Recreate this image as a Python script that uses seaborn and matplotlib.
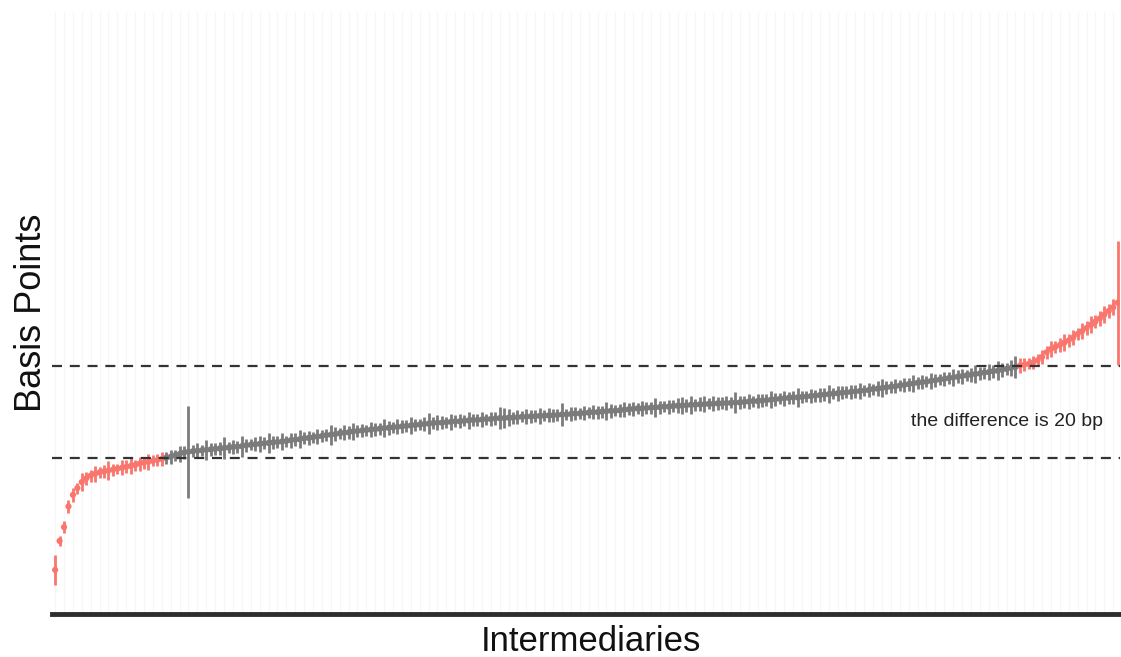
import numpy as np
import pandas as pd
import matplotlib
matplotlib.use("Agg")
import matplotlib.pyplot as plt
import seaborn as sns

# ---- data (basis points, sorted by spread) ----
spread_bp = [
    15.7, 22.0, 25.0, 29.5, 32.0, 33.5, 34.8, 35.6, 36.2, 36.6,
    36.9, 37.1, 37.3, 37.5, 37.7, 37.9, 38.1, 38.3, 38.5, 38.8,
    39.0, 39.2, 39.4, 39.6, 39.8, 40.1, 40.3, 40.6, 40.9, 41.2,
    41.4, 41.5, 41.6, 41.7, 41.8, 41.9, 42.0, 42.1, 42.2, 42.3,
    42.4, 42.5, 42.6, 42.8, 42.9, 43.0, 43.1, 43.2, 43.3, 43.4,
    43.5, 43.6, 43.7, 43.9, 44.0, 44.1, 44.3, 44.4, 44.5, 44.7,
    44.8, 45.0, 45.1, 45.2, 45.4, 45.5, 45.6, 45.8, 45.9, 46.0,
    46.1, 46.2, 46.3, 46.4, 46.5, 46.6, 46.7, 46.8, 46.9, 47.0,
    47.1, 47.2, 47.3, 47.4, 47.5, 47.6, 47.7, 47.7, 47.8, 47.9,
    48.0, 48.0, 48.1, 48.2, 48.3, 48.3, 48.4, 48.5, 48.5, 48.6,
    48.7, 48.7, 48.8, 48.8, 48.9, 49.0, 49.0, 49.1, 49.1, 49.2,
    49.2, 49.3, 49.3, 49.4, 49.5, 49.5, 49.6, 49.7, 49.7, 49.8,
    49.9, 50.0, 50.0, 50.1, 50.2, 50.3, 50.3, 50.4, 50.5, 50.6,
    50.7, 50.8, 50.8, 50.9, 51.0, 51.0, 51.1, 51.2, 51.2, 51.3,
    51.4, 51.4, 51.5, 51.6, 51.6, 51.7, 51.7, 51.8, 51.8, 51.9,
    51.9, 52.0, 52.0, 52.1, 52.1, 52.2, 52.3, 52.4, 52.4, 52.5,
    52.6, 52.7, 52.8, 52.9, 53.0, 53.1, 53.2, 53.2, 53.3, 53.4,
    53.5, 53.6, 53.7, 53.8, 53.9, 54.0, 54.1, 54.2, 54.3, 54.4,
    54.5, 54.6, 54.7, 54.8, 55.0, 55.1, 55.2, 55.4, 55.5, 55.6,
    55.8, 55.9, 56.1, 56.2, 56.4, 56.5, 56.6, 56.8, 56.9, 57.1,
    57.2, 57.4, 57.5, 57.7, 57.8, 58.0, 58.1, 58.3, 58.4, 58.6,
    58.7, 58.9, 59.0, 59.2, 59.4, 59.6, 59.8, 60.1, 60.3, 60.5,
    60.8, 61.3, 62.0, 63.0, 63.7, 64.2, 64.6, 65.1, 65.6, 66.2,
    67.0, 67.6, 68.3, 69.0, 69.7, 70.4, 71.2, 72.0, 72.8, 73.8,
]
error_bp = [
    3.3, 1.0, 1.3, 1.5, 1.6, 1.2, 1.9, 1.4, 1.3, 1.7,
    1.2, 1.5, 2.0, 1.3, 1.1, 1.6, 1.4, 1.8, 1.2, 1.5,
    1.3, 1.7, 1.2, 1.4, 1.6, 1.3, 1.5, 1.2, 1.8, 1.4,
    10.0, 1.3, 1.6, 1.2, 2.1, 1.4, 1.3, 1.5, 2.4, 1.2,
    1.6, 1.3, 2.3, 1.4, 1.2, 1.5, 1.7, 1.3, 2.2, 1.4,
    1.3, 1.8, 1.2, 1.6, 1.4, 2.0, 1.3, 1.5, 1.2, 1.7,
    1.4, 1.3, 2.2, 1.5, 1.2, 1.6, 1.4, 1.9, 1.3, 1.5,
    1.2, 1.7, 1.4, 1.3, 2.0, 1.5, 1.2, 1.6, 1.4, 1.3,
    1.8, 1.4, 1.2, 1.5, 2.3, 1.3, 1.6, 1.4, 1.2, 1.7,
    1.3, 1.5, 1.2, 1.9, 1.4, 1.3, 1.6, 1.2, 1.5, 1.4,
    2.4, 2.2, 1.8, 1.3, 1.5, 1.2, 1.6, 1.4, 1.3, 1.7,
    1.2, 1.5, 1.4, 1.3, 2.5, 1.2, 1.6, 1.4, 1.3, 1.5,
    1.2, 1.6, 1.4, 1.3, 1.9, 1.5, 1.2, 1.4, 1.6, 1.3,
    1.5, 1.2, 1.7, 1.4, 1.3, 2.1, 1.4, 1.2, 1.5, 1.3,
    1.6, 1.8, 1.4, 1.9, 1.3, 1.5, 1.7, 1.2, 1.6, 1.4,
    1.3, 1.5, 1.2, 2.2, 1.4, 1.3, 1.6, 1.2, 1.5, 1.4,
    1.3, 1.8, 1.4, 1.2, 1.6, 1.3, 1.5, 2.0, 1.4, 1.2,
    1.6, 1.3, 1.5, 1.4, 1.9, 1.2, 1.6, 1.4, 1.3, 1.5,
    1.4, 1.7, 1.3, 1.5, 1.2, 1.6, 2.0, 1.4, 1.3, 1.5,
    1.2, 1.6, 1.4, 1.9, 1.3, 1.5, 1.2, 1.7, 1.4, 1.3,
    1.5, 1.3, 1.8, 1.4, 1.6, 1.2, 1.5, 2.0, 1.4, 1.3,
    1.7, 1.4, 2.1, 1.5, 1.3, 1.8, 2.3, 1.6, 1.4, 1.2,
    1.5, 1.3, 1.6, 1.4, 1.8, 1.3, 1.5, 1.9, 1.4, 1.6,
    1.3, 1.7, 1.5, 1.9, 1.4, 1.6, 1.8, 1.5, 1.7, 13.5,
]
band_low = 40.0
band_high = 60.0
note_text = "the difference is 20 bp"
x_label = "Intermediaries"
y_label = "Basis Points"

RED = "#F8766D"
GREY = "#7b7b7b"

df = pd.DataFrame({"bp": spread_bp, "err": error_bp})
df["idx"] = np.arange(len(df))
df["group"] = np.where((df["bp"] < band_low) | (df["bp"] > band_high), "out", "in")

sns.set_theme(style="white")
plt.rcParams["font.family"] = ["Liberation Sans", "DejaVu Sans"]

fig = plt.figure(figsize=(11.21, 6.57), dpi=100)
ax = fig.add_axes([0.0464, 0.0654, 0.9526, 0.9163])

# faint vertical grid
ax.set_xticks(np.arange(0, len(df), 2))
ax.grid(axis="x", color="#f6f6f6", linewidth=0.8)
ax.set_axisbelow(True)

colors = df["group"].map({"out": RED, "in": GREY})
ax.vlines(df["idx"], df["bp"] - df["err"], df["bp"] + df["err"],
          colors=colors, linewidth=2.0, zorder=2)
sns.scatterplot(data=df, x="idx", y="bp", hue="group",
                palette={"out": RED, "in": GREY}, legend=False,
                s=20, linewidth=0, ax=ax, zorder=3)

for yv in (band_low, band_high):
    ax.axhline(yv, color="#333333", linewidth=1.6, linestyle=(0, (4.5, 3.5)), zorder=4)

ax.text(192.6, 48.0, note_text, fontsize=14, color="#222222",
        ha="left", va="center")

ax.set_xlim(-0.7, len(df) - 0.5)
ax.set_ylim(6.1, 137.0)
ax.set_xticklabels([])
ax.set_yticks([])
ax.tick_params(axis="x", length=0, pad=0)
for s in ("top", "right", "left"):
    ax.spines[s].set_visible(False)
ax.spines["bottom"].set_color("#2e2e2e")
ax.spines["bottom"].set_linewidth(3.5)

ax.set_xlabel("")
fig.text(0.5275, (657 - 651) / 657, x_label, fontsize=25, color="#111111",
         ha="center", va="baseline")
ax.set_ylabel(y_label, fontsize=26, color="#111111", labelpad=2)

fig.savefig("out.png", dpi=100, facecolor="white")
